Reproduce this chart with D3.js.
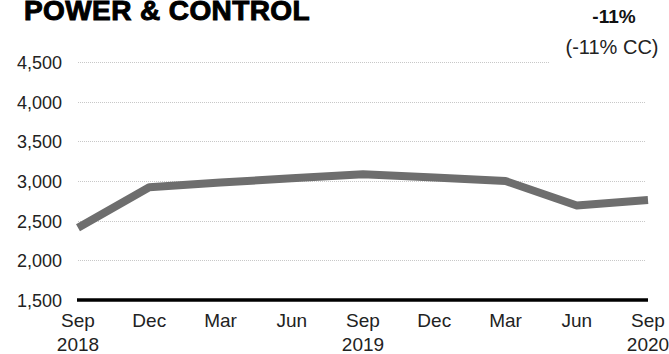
<!DOCTYPE html>
<html>
<head>
<meta charset="utf-8">
<script src="https://cdn.jsdelivr.net/npm/d3@7"></script>
<style>
  body { margin: 0; background: #fff; }
  text { font-family: "Liberation Sans", Arial, sans-serif; }
</style>
</head>
<body>
<svg id="chart" width="669" height="354"></svg>
<script>
// data
let quarters = ['Sep 2018', 'Dec 2018', 'Mar 2019', 'Jun 2019', 'Sep 2019', 'Dec 2019', 'Mar 2020', 'Jun 2020', 'Sep 2020']
let monthLabels = ['Sep', 'Dec', 'Mar', 'Jun', 'Sep', 'Dec', 'Mar', 'Jun', 'Sep']
let yearLabels = ['2018', '', '', '', '2019', '', '', '', '2020']
let values = [2410, 2920, 2980, 3035, 3085, 3045, 3000, 2690, 2760]
let yTicks = [1500, 2000, 2500, 3000, 3500, 4000, 4500]

let m = {top: 62, left: 78, right: 21, bottom: 54}
let width = 669, height = 354

let svg = d3.select('#chart')

let xScale = d3.scalePoint().domain(quarters).range([m.left, width - m.right])
let yScale = d3.scaleLinear().domain([1500, 4500]).range([height - m.bottom, m.top])

// gridlines
svg.append('g')
    .selectAll('line')
    .data(yTicks.filter(d => d > 1500))
    .enter().append('line')
        .attr('x1', m.left)
        .attr('x2', width - m.right - 3)
        .attr('y1', d => Math.round(yScale(d)) + 0.5)
        .attr('y2', d => Math.round(yScale(d)) + 0.5)
        .attr('stroke', '#c8c8c8')
        .attr('stroke-width', 1)
        .attr('stroke-dasharray', '1,1')

// y labels
svg.append('g')
    .selectAll('text')
    .data(yTicks)
    .enter().append('text')
        .attr('x', 62)
        .attr('y', d => yScale(d) + 7)
        .attr('text-anchor', 'end')
        .attr('font-size', 18)
        .attr('fill', '#222')
        .text(d => d3.format(',')(d))

// baseline
svg.append('line')
    .attr('x1', m.left - 1)
    .attr('x2', width - m.right)
    .attr('y1', yScale(1500))
    .attr('y2', yScale(1500))
    .attr('stroke', '#000')
    .attr('stroke-width', 3.5)

// x labels
let xl = svg.append('g')
xl.selectAll('.month')
    .data(quarters)
    .enter().append('text')
        .attr('class', 'month')
        .attr('x', d => xScale(d))
        .attr('y', 327)
        .attr('text-anchor', 'middle')
        .attr('font-size', 19)
        .attr('fill', '#222')
        .text((d, i) => monthLabels[i])
xl.selectAll('.year')
    .data(quarters)
    .enter().append('text')
        .attr('class', 'year')
        .attr('x', d => xScale(d))
        .attr('y', 351)
        .attr('text-anchor', 'middle')
        .attr('font-size', 19)
        .attr('fill', '#222')
        .text((d, i) => yearLabels[i])

// series line
let line = d3.line()
    .x((d, i) => xScale(quarters[i]))
    .y(d => yScale(d))

svg.append('path')
    .datum(values)
    .attr('d', line)
    .attr('fill', 'none')
    .attr('stroke', '#6e6e6e')
    .attr('stroke-width', 8)
    .attr('stroke-linejoin', 'round')

// title and change labels
svg.append('text')
    .attr('x', 24)
    .attr('y', 20)
    .attr('font-size', 28)
    .attr('font-weight', 'bold')
    .attr('fill', '#000')
    .attr('stroke', '#000')
    .attr('stroke-width', 1)
    .attr('letter-spacing', 0.4)
    .text('POWER & CONTROL')

svg.append('rect')
    .attr('x', 549)
    .attr('y', 30)
    .attr('width', 120)
    .attr('height', 36)
    .attr('fill', '#fff')

svg.append('text')
    .attr('x', 614)
    .attr('y', 23)
    .attr('text-anchor', 'middle')
    .attr('font-size', 19)
    .attr('font-weight', 'bold')
    .attr('fill', '#111')
    .text('-11%')

svg.append('text')
    .attr('x', 612)
    .attr('y', 54)
    .attr('text-anchor', 'middle')
    .attr('font-size', 20)
    .attr('fill', '#222')
    .text('(-11% CC)')
</script>
</body>
</html>
